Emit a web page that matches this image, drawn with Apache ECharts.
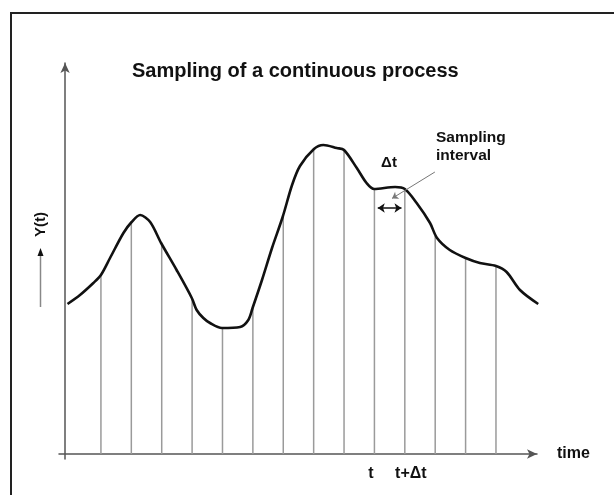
<!DOCTYPE html>
<html>
<head>
<meta charset="utf-8">
<title>Sampling of a continuous process</title>
<script src="https://cdn.jsdelivr.net/npm/echarts@6/dist/echarts.min.js"></script>
<style>
  html, body { margin: 0; padding: 0; background: #fff; }
  #chart { width: 614px; height: 495px; }
</style>
</head>
<body>
<div id="chart"></div>
<script>
"use strict";

// Continuous process Y(t).
// time is in sampling steps counted from the Y axis.
const curveTime = [
  0.08, 0.49, 0.93, 1.18, 1.48, 1.92, 2.19, 2.47, 2.80, 3.16, 3.67,
  4.17, 4.33, 4.55, 4.77, 5.16, 5.76, 6.03, 6.17, 6.48, 6.81, 7.16,
  7.47, 7.73, 8.19, 8.50, 8.94, 9.18, 9.60, 9.92, 10.17, 10.86, 11.18,
  11.57, 12.01, 12.24, 12.66, 13.18, 13.65, 14.18, 14.53, 14.97, 15.57
];
const curveValue = [
  15.0, 15.9, 17.1, 17.9, 19.6, 22.1, 23.2, 23.9, 23.2, 21.1, 18.4,
  15.6, 14.4, 13.6, 13.1, 12.6, 12.7, 13.4, 14.6, 17.4, 20.6, 23.7,
  26.9, 28.8, 30.5, 30.9, 30.6, 30.4, 28.6, 27.1, 26.5, 26.7, 26.5,
  25.1, 23.1, 21.6, 20.4, 19.6, 19.1, 18.8, 18.2, 16.4, 15.0
];

// Sampling instants (vertical lines) and the value of Y at each one
const sampleTime = [
  1.18, 2.18, 3.18, 4.18, 5.18, 6.18, 7.18,
  8.18, 9.18, 10.18, 11.18, 12.18, 13.18, 14.18
];
const sampleValue = [
  17.9, 23.2, 21.0, 15.5, 12.6, 14.6, 23.7,
  30.5, 30.4, 26.5, 26.5, 21.8, 19.6, 18.8
];

// Labels under the time axis, put on the 10th and 11th samples
const tickIndex = [9, 10];
const tickLabels = ["t", "t+Δt"];

const FONT = '"Liberation Sans", Arial, Helvetica, sans-serif';
const INK = "#111";

const tickValues = tickIndex.map((i) => sampleTime[i]);
const tStart = sampleTime[tickIndex[0]];
const tEnd = sampleTime[tickIndex[1]];

const chart = echarts.init(document.getElementById("chart"), null, { renderer: "canvas" });

const option = {
  animation: false,
  backgroundColor: "#fff",
  title: {
    text: "Sampling of a continuous process",
    left: 132,
    top: 61,
    padding: 0,
    textStyle: { fontFamily: FONT, fontSize: 20, fontWeight: "bold", color: INK }
  },
  grid: {
    left: 59,
    right: 77,
    top: 63,
    bottom: 36,
    containLabel: false,
    outerBoundsMode: "none"
  },
  xAxis: {
    type: "value",
    min: -0.2,
    max: 15.53,
    name: "time",
    nameLocation: "end",
    nameGap: 20,
    nameTextStyle: {
      fontFamily: FONT, fontSize: 16, fontWeight: "bold", color: INK,
      verticalAlign: "middle", padding: [0, 0, 9, 0]
    },
    axisLine: {
      onZero: true,
      symbol: ["none", "arrow"],
      symbolSize: [7, 10],
      lineStyle: { color: "#555", width: 1.5 }
    },
    axisTick: { show: false },
    splitLine: { show: false },
    axisLabel: {
      customValues: tickValues,
      margin: 7,
      formatter: function (v) {
        const k = tickValues.indexOf(v);
        return k === 0 ? "{l|" + tickLabels[0] + "}" : "{r|" + tickLabels[1] + "}";
      },
      rich: {
        l: { fontFamily: FONT, fontSize: 16, fontWeight: "bold", color: INK, padding: [0, 7, 0, 0] },
        r: { fontFamily: FONT, fontSize: 16, fontWeight: "bold", color: INK, padding: [0, 0, 0, 12] }
      }
    }
  },
  yAxis: {
    type: "value",
    min: -0.5,
    max: 39.1,
    axisLine: {
      onZero: true,
      symbol: ["none", "arrow"],
      symbolSize: [7, 10],
      lineStyle: { color: "#555", width: 1.5 }
    },
    axisTick: { show: false },
    axisLabel: { show: false },
    splitLine: { show: false }
  },
  series: [
    {
      // vertical sample lines
      type: "bar",
      silent: true,
      barWidth: 1.5,
      itemStyle: { color: "#9a9a9a" },
      z: 1,
      data: sampleTime.map((t, i) => [t, sampleValue[i]])
    },
    {
      type: "line",
      silent: true,
      smooth: 0.3,
      showSymbol: false,
      clip: false,
      z: 3,
      lineStyle: { color: INK, width: 2.6 },
      data: curveTime.map((t, i) => [t, curveValue[i]]),
      markLine: {
        silent: true,
        animation: false,
        label: { show: false },
        emphasis: { disabled: true },
        data: [
          // the sampling interval, arrows at both ends
          [
            { coord: [tStart + 0.11, 24.6], symbol: "arrow", symbolSize: 7,
              lineStyle: { color: INK, width: 1.5, type: "solid" } },
            { coord: [tEnd - 0.11, 24.6], symbol: "arrow", symbolSize: 7 }
          ],
          // leader from the "Sampling interval" note
          [
            { coord: [12.17, 28.2], symbol: "none",
              lineStyle: { color: "#777", width: 1, type: "solid" } },
            { coord: [10.76, 25.56], symbol: "arrow", symbolSize: 6 }
          ]
        ]
      }
    }
  ],
  graphic: [
    {
      type: "rect",
      silent: true,
      shape: { x: 11, y: 13, width: 640, height: 520 },
      style: { fill: "none", stroke: "#222", lineWidth: 2 }
    },
    {
      type: "line",
      silent: true,
      shape: { x1: 40.5, y1: 307, x2: 40.5, y2: 254 },
      style: { stroke: "#888", lineWidth: 1.5 }
    },
    {
      type: "polygon",
      silent: true,
      shape: { points: [[37.5, 256], [43.5, 256], [40.5, 248]] },
      style: { fill: INK }
    },
    {
      type: "text",
      silent: true,
      x: 41,
      y: 224.5,
      rotation: Math.PI / 2,
      style: {
        text: "Y(t)", font: "bold 15px " + FONT, fill: INK,
        align: "center", verticalAlign: "middle"
      }
    },
    {
      type: "text",
      silent: true,
      x: 389,
      y: 163,
      style: {
        text: "Δt", font: "bold 15px " + FONT, fill: INK,
        align: "center", verticalAlign: "middle"
      }
    },
    {
      type: "text",
      silent: true,
      x: 436,
      y: 129,
      style: {
        text: "Sampling\ninterval", font: "bold 15.5px " + FONT, fill: INK,
        lineHeight: 17.5, align: "left", verticalAlign: "top"
      }
    }
  ]
};

chart.setOption(option);
</script>
</body>
</html>
